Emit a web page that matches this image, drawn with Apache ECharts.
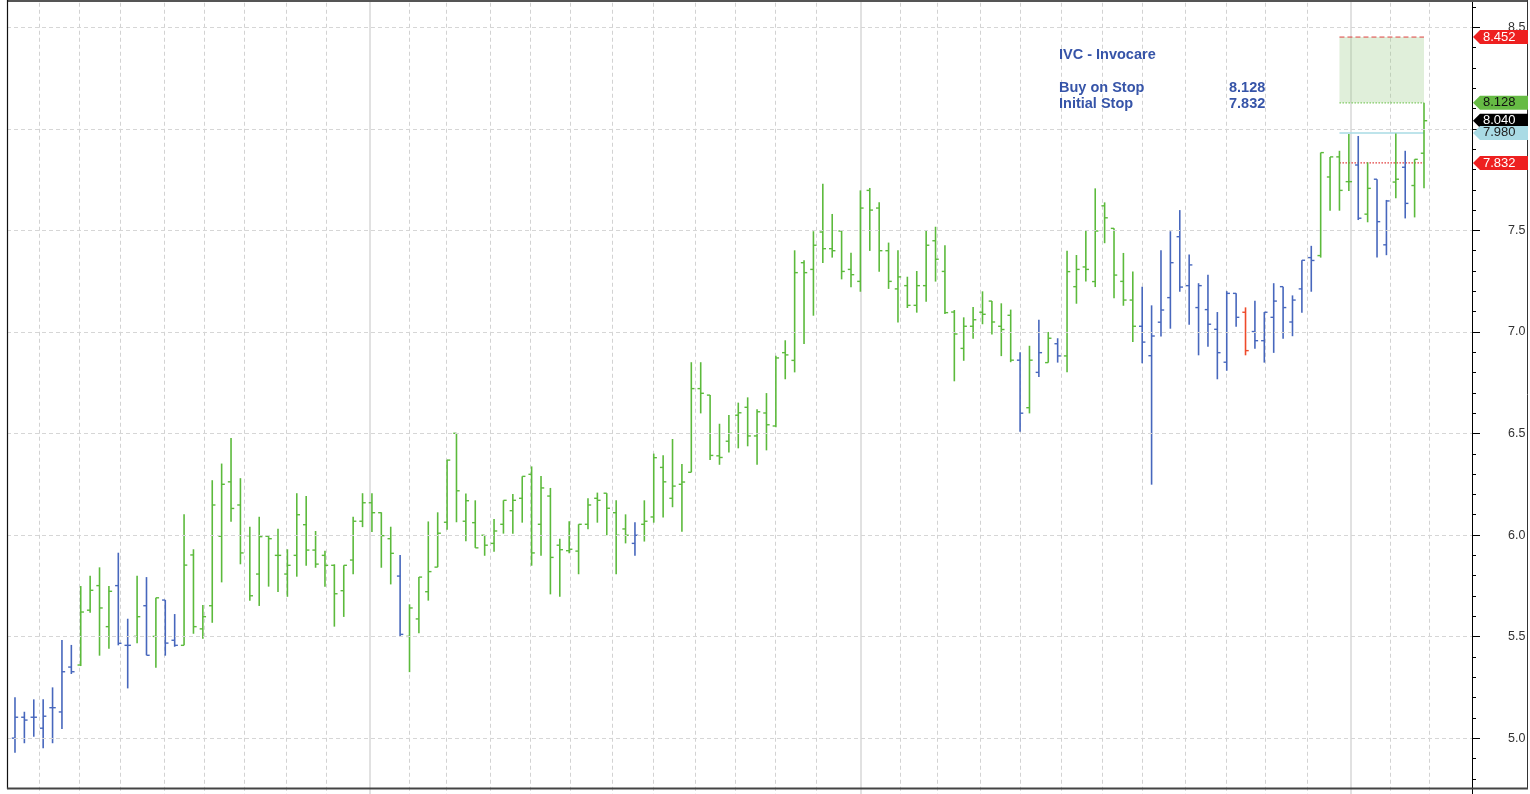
<!DOCTYPE html>
<html>
<head>
<meta charset="utf-8">
<script src="https://cdn.jsdelivr.net/npm/echarts@6/dist/echarts.min.js"></script>
<style>
html,body{margin:0;padding:0;background:#fff;}
#chart{width:1530px;height:794px;}
</style>
</head>
<body>
<div id="chart"></div>
<script>
// ---- Data (daily OHLC bars, oldest first) ----
const opens = [
5.000,5.103,5.103,5.049,5.150,5.129,5.350,5.360,5.630,5.751,
5.549,5.751,5.457,5.501,5.652,5.501,5.680,5.482,5.457,5.902,
5.538,5.652,5.994,6.262,6.148,5.997,5.808,5.994,5.900,5.808,
5.900,6.051,5.926,5.900,5.851,5.726,5.877,6.068,6.159,6.110,
5.982,5.798,5.501,5.587,5.721,5.842,6.063,6.501,6.068,6.061,
5.999,5.959,6.053,6.120,6.181,6.299,6.053,6.192,5.950,5.923,
5.921,6.053,6.181,6.206,6.110,6.030,5.959,6.053,6.089,6.333,
6.181,6.250,6.309,6.721,6.689,6.390,6.462,6.590,6.629,6.488,
6.601,6.537,6.898,6.860,7.341,7.308,7.492,7.410,7.497,7.308,
7.249,7.697,7.610,7.400,7.212,7.228,7.131,7.228,7.449,7.298,
7.098,6.919,7.028,7.097,7.152,7.028,7.082,6.861,6.627,6.801,
6.849,6.942,6.882,7.223,7.320,7.248,7.621,7.510,7.249,7.157,
7.028,6.883,7.048,7.169,7.469,7.228,7.120,7.110,7.013,6.851,
7.190,7.097,7.002,6.957,7.072,7.223,7.049,7.212,7.366,7.376,
7.763,7.862,7.740,7.822,7.580,7.752,7.429,7.738,7.811,7.721,7.880];
const highs = [
5.201,5.130,5.191,5.191,5.250,5.483,5.459,5.749,5.800,5.841,
5.749,5.913,5.588,5.800,5.793,5.691,5.680,5.611,6.102,5.930,
5.656,6.270,6.352,6.478,6.280,6.041,6.090,5.995,6.031,5.930,
6.206,6.192,6.020,5.923,5.856,5.851,6.090,6.206,6.206,6.112,
6.041,5.902,5.659,5.793,6.067,6.112,6.371,6.501,6.204,6.171,
5.999,6.079,6.171,6.202,6.289,6.338,6.291,6.232,5.982,6.068,
6.053,6.181,6.209,6.206,6.171,6.102,6.063,6.171,6.401,6.393,
6.473,6.350,6.851,6.851,6.689,6.548,6.591,6.652,6.678,6.619,
6.699,6.883,6.959,7.402,7.353,7.496,7.730,7.581,7.497,7.390,
7.697,7.709,7.638,7.440,7.402,7.272,7.300,7.497,7.518,7.427,
7.108,7.072,7.123,7.200,7.152,7.141,7.110,6.900,6.932,7.060,
7.000,6.969,7.400,7.379,7.497,7.707,7.638,7.510,7.389,7.298,
7.223,7.131,7.402,7.496,7.600,7.381,7.240,7.282,7.098,7.201,
7.190,7.121,7.154,7.098,7.240,7.223,7.180,7.353,7.424,7.883,
7.862,7.892,7.975,7.965,7.835,7.752,7.650,7.977,7.892,7.850,8.128];
const lows = [
4.928,4.975,5.007,4.950,4.975,5.045,5.316,5.355,5.618,5.406,
5.440,5.457,5.245,5.467,5.408,5.347,5.406,5.450,5.457,5.514,
5.489,5.568,5.767,6.066,5.856,5.677,5.651,5.746,5.720,5.696,
5.795,5.849,5.839,5.746,5.549,5.597,5.807,6.039,6.015,5.839,
5.757,5.501,5.325,5.516,5.677,5.842,6.026,6.063,5.970,5.937,
5.898,5.918,6.007,6.007,6.061,5.849,5.898,5.708,5.696,5.910,
5.807,6.028,6.061,5.999,5.807,5.959,5.898,5.968,6.061,6.087,
6.137,6.016,6.309,6.599,6.369,6.346,6.406,6.427,6.437,6.346,
6.417,6.531,6.767,6.801,6.941,7.080,7.340,7.366,7.259,7.220,
7.198,7.399,7.297,7.212,7.047,7.118,7.095,7.149,7.248,7.088,
6.757,6.858,6.967,7.038,6.988,6.881,6.851,6.509,6.599,6.778,
6.849,6.849,6.801,7.139,7.248,7.221,7.437,7.166,7.129,6.950,
6.846,6.248,6.977,7.016,7.198,7.036,6.885,6.927,6.767,6.809,
7.025,6.885,6.917,6.849,6.897,6.967,6.979,7.095,7.198,7.366,
7.597,7.597,7.694,7.551,7.540,7.367,7.378,7.658,7.559,7.564,7.707];
const closes = [
5.103,5.089,5.103,5.108,5.150,5.327,5.327,5.621,5.728,5.641,
5.723,5.467,5.457,5.598,5.408,5.691,5.468,5.457,5.852,5.549,
5.598,6.148,6.250,6.131,5.912,5.701,5.992,5.982,5.900,5.851,
6.100,5.926,5.857,5.851,5.711,5.851,6.068,6.159,6.110,5.997,
5.910,5.511,5.641,5.793,5.820,6.009,6.369,6.218,6.169,5.937,
5.950,6.020,6.171,6.171,6.289,5.912,6.232,5.890,5.928,5.930,
6.053,6.148,6.171,6.132,5.999,5.999,5.999,6.068,6.381,6.262,
6.241,6.261,6.721,6.698,6.392,6.382,6.501,6.602,6.488,6.607,
6.543,6.872,6.887,7.292,7.292,7.427,7.410,7.400,7.298,7.282,
7.610,7.600,7.400,7.249,7.271,7.131,7.228,7.427,7.358,7.095,
6.990,7.028,7.060,7.087,7.049,7.012,6.861,6.600,6.861,6.898,
6.969,6.882,7.297,7.308,7.308,7.497,7.562,7.280,7.157,7.028,
6.950,6.980,7.108,7.341,7.221,7.330,7.228,7.038,6.898,7.190,
7.072,6.908,6.957,7.097,7.152,7.120,7.157,7.353,7.352,7.883,
7.862,7.697,7.740,7.560,7.707,7.543,7.645,7.752,7.633,7.850,8.040];
// bar colouring state: g = up trend, b = down trend, r = warning
const trend = ("bbbbbbbggg"+"gbbgbgbbgg"+"gggggggggg"+"gggggggggg"+"gbgggggggg"+
               "gggggggggg"+"ggggggbggg"+"gggggggggg"+"gggggggggg"+"gggggggggg"+
               "gggggggbgb"+"gbgggggggg"+"bbbbbbbbbb"+"brbbbbbbbg"+"gggbgbbgbgg").split('');
// weekly / monthly vertical grid positions (in bar units)
const weekLines = [2.59,6.78,11.21,15.89,20.09,24.38,28.82,33.08,41.91,45.85,50.57,54.86,
  59.05,63.53,67.92,72.34,76.68,80.88,85.31,94.19,98.13,102.77,106.99,111.33,115.72,
  119.95,124.59,128.92,133.11,137.55,146.39,150.58];
const monthLines = [37.79,90.07,142.20];
// y-axis ticks: labelled every 0.5, minor every 0.1
const yTickStep = 0.5;
const yMinorStep = 0.1;
// trade setup
const title = "IVC - Invocare";
const targetPrice = 8.452;
const buyStop = 8.128;
const lastClose = 8.040;
const recentHigh = 7.980;
const initialStop = 7.832;
const setupStart = 141, setupEnd = 150;
const tagValues = [targetPrice, buyStop, lastClose, recentHigh, initialStop];

const COL = {g:'#5cba3c', b:'#4767bd', r:'#ee4a2a'};
const tagFill = ['#ee2020','#66bb44','#000000','#a9dbe5','#ee2020'];
const tagText = ['#ffffff','#111111','#ffffff','#222222','#ffffff'];

const X_MIN = -0.85, X_MAX = 155.11, Y_MIN = 4.5, Y_MAX = 9.0;
const bars = opens.map((o,i)=>[i,o,highs[i],lows[i],closes[i]]);
const FONT = '"Liberation Sans", Arial, sans-serif';

const chart = echarts.init(document.getElementById('chart'), null, {renderer:'canvas'});
chart.setOption({
  animation:false,
  backgroundColor:'#ffffff',
  grid:{left:7, right:58, top:-74.25, bottom:-45.7, containLabel:false, outerBoundsMode:'none'},
  xAxis:{type:'value', min:X_MIN, max:X_MAX, show:false,
    axisLine:{show:false, onZero:false}, axisTick:{show:false}, axisLabel:{show:false}, splitLine:{show:false}},
  yAxis:[
    {type:'value', position:'right', min:Y_MIN, max:Y_MAX, interval:yTickStep, z:5,
      axisLine:{show:true, onZero:false, lineStyle:{color:'#000', width:1}},
      axisTick:{show:true, length:8, lineStyle:{color:'#000'}},
      minorTick:{show:false},
      axisLabel:{margin:36, color:'#333', fontSize:12.5, fontFamily:FONT, formatter:v=>v.toFixed(1)},
      splitLine:{show:true, lineStyle:{color:'#d6d6d6', type:[4,3], width:1}}
    },
    {type:'value', position:'right', min:Y_MIN, max:Y_MAX, interval:yMinorStep, z:4,
      axisLine:{show:false, onZero:false},
      axisTick:{show:true, length:4, lineStyle:{color:'#000'}},
      axisLabel:{show:false},
      splitLine:{show:false}
    }
  ],
  graphic:[
    {type:'line', shape:{x1:7,y1:1,x2:1528,y2:1}, style:{stroke:'#555', lineWidth:2}, z:10},
    {type:'line', shape:{x1:7.5,y1:0,x2:7.5,y2:789}, style:{stroke:'#111', lineWidth:1.2}, z:10},
    {type:'line', shape:{x1:1527.5,y1:0,x2:1527.5,y2:789}, style:{stroke:'#333', lineWidth:1}, z:10},
    {type:'line', shape:{x1:7,y1:788.5,x2:1528,y2:788.5}, style:{stroke:'#444', lineWidth:2}, z:10},
    {type:'text', left:1059, top:47, style:{text:title, fill:'#3654a8', font:'bold 14.5px '+FONT}, z:20},
    {type:'text', left:1059, top:80, style:{text:'Buy on Stop', fill:'#3654a8', font:'bold 14.5px '+FONT}, z:20},
    {type:'text', left:1229, top:80, style:{text:buyStop.toFixed(3), fill:'#3654a8', font:'bold 14.5px '+FONT}, z:20},
    {type:'text', left:1059, top:96, style:{text:'Initial Stop', fill:'#3654a8', font:'bold 14.5px '+FONT}, z:20},
    {type:'text', left:1229, top:96, style:{text:initialStop.toFixed(3), fill:'#3654a8', font:'bold 14.5px '+FONT}, z:20}
  ],
  series:[
    {type:'custom', name:'weeks', z:1, silent:true, data:weekLines.map(v=>[v, Y_MIN]),
      encode:{x:0, y:1},
      renderItem:(params, api)=>{
        const x = Math.round(api.coord([api.value(0), Y_MIN])[0]) + 0.5;
        const cs = params.coordSys;
        return {type:'line', shape:{x1:x,y1:cs.y,x2:x,y2:cs.y+cs.height},
          style:{stroke:'#d2d2d2', lineWidth:1, lineDash:[4,3]}};
      }},
    {type:'custom', name:'months', z:1, silent:true, data:monthLines.map(v=>[v, Y_MIN]),
      encode:{x:0, y:1},
      renderItem:(params, api)=>{
        const x = Math.round(api.coord([api.value(0), Y_MIN])[0]);
        const cs = params.coordSys;
        return {type:'line', shape:{x1:x,y1:cs.y,x2:x,y2:cs.y+cs.height},
          style:{stroke:'#dadada', lineWidth:1.6}};
      }},
    {type:'custom', name:'setup', z:2, silent:true, clip:false, data:[[setupStart, buyStop]],
      encode:{x:0, y:1},
      renderItem:(params, api)=>{
        const a = api.coord([setupStart, targetPrice]);
        const b = api.coord([setupEnd, buyStop]);
        const hy = api.coord([setupEnd, recentHigh])[1];
        const sy = api.coord([setupEnd, initialStop])[1];
        return {type:'group', children:[
          {type:'rect', shape:{x:a[0], y:a[1], width:b[0]-a[0], height:b[1]-a[1]},
            style:{fill:'rgba(160,205,140,0.32)'}},
          {type:'line', shape:{x1:a[0],y1:a[1],x2:b[0],y2:a[1]}, style:{stroke:'#e04040', lineWidth:1, lineDash:[5,3]}},
          {type:'line', shape:{x1:a[0],y1:b[1],x2:b[0],y2:b[1]}, style:{stroke:'#7cc860', lineWidth:1.2, lineDash:[1.5,1.5]}},
          {type:'line', shape:{x1:a[0],y1:hy,x2:b[0],y2:hy}, style:{stroke:'#a9dbe5', lineWidth:1.5}},
          {type:'line', shape:{x1:a[0],y1:sy,x2:b[0],y2:sy}, style:{stroke:'#e03838', lineWidth:1.2, lineDash:[1.5,1.5]}}
        ]};
      }},
    {type:'custom', name:'IVC', z:3, silent:true, data:bars,
      dimensions:['i','open','high','low','close'],
      encode:{x:0, y:[1,2,3,4]},
      renderItem:(params, api)=>{
        const i = api.value(0);
        const pH = api.coord([i, api.value(2)]);
        const yL = api.coord([i, api.value(3)])[1];
        const yO = api.coord([i, api.value(1)])[1];
        const yC = api.coord([i, api.value(4)])[1];
        const x = pH[0];
        const col = COL[trend[params.dataIndex]];
        return {type:'group', children:[
          {type:'line', shape:{x1:x,y1:pH[1],x2:x,y2:yL}, style:{stroke:col, lineWidth:1.6}},
          {type:'line', shape:{x1:x-3.2,y1:yO,x2:x,y2:yO}, style:{stroke:col, lineWidth:1.4}},
          {type:'line', shape:{x1:x,y1:yC,x2:x+3.2,y2:yC}, style:{stroke:col, lineWidth:1.4}}
        ]};
      }},
    {type:'custom', name:'tags', z:10, silent:true, clip:false, data:tagValues.map(v=>[X_MAX, v]),
      encode:{x:0, y:1},
      renderItem:(params, api)=>{
        const v = api.value(1);
        const p = api.coord([X_MAX, v]);
        const x = p[0] + 1, y = p[1];
        const k = params.dataIndex;
        return {type:'group', children:[
          {type:'polygon', shape:{points:[[x,y],[x+7,y-7],[x+55,y-7],[x+55,y+7],[x+7,y+7]]},
            style:{fill:tagFill[k]}},
          {type:'text', x:x+10, y:y, style:{text:v.toFixed(3), fill:tagText[k],
            font:'13px '+FONT, textVerticalAlign:'middle', verticalAlign:'middle'}}
        ]};
      }}
  ]
});
</script>
</body>
</html>
